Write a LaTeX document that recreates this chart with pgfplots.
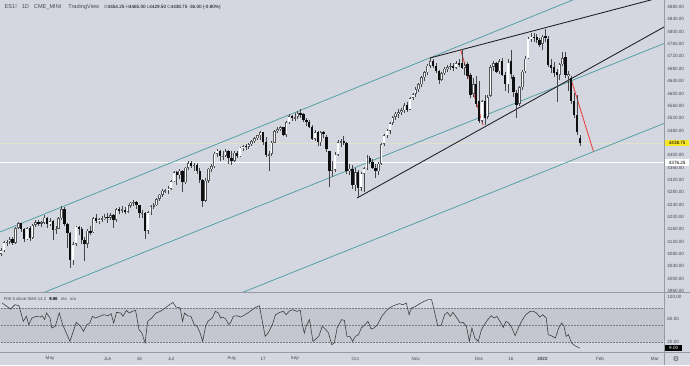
\documentclass[border=0pt]{standalone}
\usepackage{pgfplots}
\pgfplotsset{compat=1.18}
\usepackage{pgfplotstable}
\usepackage{fontspec}
\setmainfont{Liberation Sans}
\newfontfamily\symfont{DejaVu Sans}
\definecolor{bg}{RGB}{212,215,224}
\definecolor{band}{RGB}{196,199,207}
\definecolor{tealc}{RGB}{78,158,160}
\definecolor{redc}{RGB}{232,70,70}
\definecolor{wedge}{RGB}{28,28,34}
\definecolor{outc}{RGB}{85,85,90}
\definecolor{downc}{RGB}{15,15,18}
\definecolor{wickc}{RGB}{70,70,75}
\definecolor{sepc}{RGB}{150,154,164}
\definecolor{tickc}{RGB}{70,74,84}
\definecolor{yellowbox}{RGB}{245,230,40}
\definecolor{faint}{RGB}{228,226,205}

\pgfplotstableread{
i O H L C
0 4080 4098 4072 4092
1 4092 4122 4088 4118
2 4118 4125 4105 4120
3 4120 4135 4112 4128
4 4130 4135 4110 4116
5 4116 4168 4114 4164
6 4164 4183 4160 4180
7 4180 4182 4152 4162
8 4162 4165 4118 4128
9 4128 4168 4125 4164
10 4164 4170 4122 4132
11 4132 4178 4128 4174
12 4174 4190 4168 4184
13 4184 4190 4170 4180
14 4180 4188 4168 4182
15 4182 4205 4176 4198
16 4198 4200 4165 4176
17 4176 4195 4172 4186
18 4186 4190 4125 4158
19 4158 4170 4145 4162
20 4162 4200 4160 4196
21 4196 4235 4190 4226
22 4226 4232 4172 4178
23 4178 4182 4100 4148
24 4148 4152 4034 4060
25 4060 4118 4045 4112
26 4112 4172 4105 4168
27 4168 4172 4140 4160
28 4160 4168 4112 4126
29 4126 4135 4058 4112
30 4112 4160 4098 4155
31 4155 4172 4140 4150
32 4150 4200 4148 4195
33 4195 4210 4180 4186
34 4186 4198 4178 4192
35 4192 4202 4185 4195
36 4195 4210 4190 4200
37 4200 4212 4180 4198
38 4198 4212 4190 4205
39 4205 4210 4165 4190
40 4190 4230 4185 4226
41 4226 4232 4208 4222
42 4222 4234 4212 4224
43 4224 4232 4210 4216
44 4216 4240 4212 4236
45 4236 4250 4230 4246
46 4246 4256 4235 4250
47 4250 4252 4225 4238
48 4238 4240 4195 4212
49 4212 4222 4195 4214
50 4214 4216 4130 4155
51 4155 4220 4145 4215
52 4215 4240 4205 4235
53 4235 4245 4225 4238
54 4238 4262 4234 4258
55 4258 4275 4252 4272
56 4272 4290 4265 4285
57 4285 4292 4276 4286
58 4286 4300 4275 4292
59 4292 4320 4288 4316
60 4316 4350 4312 4345
61 4345 4350 4305 4335
62 4335 4355 4322 4350
63 4350 4352 4280 4312
64 4312 4362 4308 4360
65 4360 4380 4352 4375
66 4375 4382 4358 4366
67 4366 4375 4348 4368
68 4368 4374 4340 4350
69 4350 4358 4310 4320
70 4320 4322 4233 4252
71 4252 4325 4248 4318
72 4318 4360 4310 4356
73 4356 4370 4345 4364
74 4364 4410 4358 4405
75 4405 4420 4395 4414
76 4414 4418 4380 4396
77 4396 4412 4385 4398
78 4398 4420 4395 4412
79 4412 4416 4372 4390
80 4390 4412 4368 4382
81 4382 4412 4378 4408
82 4408 4412 4390 4396
83 4396 4428 4394 4424
84 4424 4432 4415 4430
85 4430 4436 4418 4428
86 4428 4440 4420 4436
87 4436 4448 4430 4445
88 4445 4460 4440 4456
89 4456 4466 4450 4464
90 4464 4478 4448 4474
91 4474 4476 4432 4442
92 4442 4458 4395 4400
93 4400 4415 4350 4404
94 4404 4445 4398 4440
95 4440 4482 4438 4478
96 4478 4490 4472 4484
97 4484 4496 4480 4490
98 4490 4492 4462 4466
99 4466 4510 4460 4506
100 4506 4532 4500 4526
101 4526 4530 4512 4520
102 4520 4538 4510 4524
103 4524 4542 4518 4536
104 4536 4550 4522 4532
105 4532 4538 4508 4514
106 4514 4520 4496 4508
107 4508 4514 4488 4492
108 4492 4498 4448 4454
109 4454 4482 4446 4474
110 4474 4480 4430 4442
111 4442 4478 4430 4474
112 4474 4478 4455 4468
113 4460 4465 4410 4420
114 4412 4415 4298 4350
115 4350 4380 4330 4352
116 4352 4410 4345 4402
117 4402 4450 4398 4442
118 4442 4452 4425 4445
119 4445 4462 4432 4438
120 4438 4442 4340 4348
121 4348 4370 4335 4356
122 4356 4368 4290 4302
123 4302 4358 4285 4345
124 4345 4352 4260 4294
125 4294 4345 4285 4340
126 4340 4362 4280 4358
127 4358 4400 4352 4392
128 4392 4398 4370 4378
129 4378 4388 4355 4360
130 4360 4370 4325 4348
131 4348 4378 4335 4372
132 4372 4440 4368 4436
133 4436 4468 4430 4464
134 4464 4485 4455 4480
135 4480 4508 4470 4504
136 4504 4528 4498 4524
137 4524 4540 4515 4534
138 4534 4550 4522 4540
139 4540 4552 4530 4545
140 4545 4570 4538 4562
141 4562 4572 4540 4548
142 4548 4590 4545 4585
143 4585 4602 4578 4598
144 4598 4620 4590 4614
145 4614 4635 4605 4630
146 4630 4658 4620 4652
147 4652 4672 4640 4668
148 4668 4695 4660 4690
149 4690 4718 4682 4705
150 4705 4712 4682 4690
151 4690 4698 4665 4672
152 4672 4675 4630 4645
153 4645 4670 4640 4665
154 4665 4685 4660 4680
155 4680 4692 4668 4686
156 4686 4700 4675 4690
157 4690 4698 4672 4684
158 4684 4705 4678 4698
159 4698 4710 4685 4692
160 4700 4743 4678 4684
161 4684 4700 4660 4692
162 4694 4702 4648 4655
163 4660 4665 4585 4595
164 4598 4650 4590 4630
165 4630 4655 4555 4566
166 4574 4640 4503 4510
167 4512 4580 4505 4574
168 4576 4596 4498 4522
169 4524 4595 4518 4588
170 4592 4692 4590 4686
171 4686 4706 4672 4698
172 4698 4702 4665 4670
173 4672 4712 4662 4704
174 4706 4716 4655 4660
175 4660 4668 4608 4630
176 4630 4712 4600 4700
177 4704 4742 4648 4664
178 4652 4660 4590 4605
179 4600 4610 4520 4562
180 4566 4625 4560 4620
181 4620 4676 4612 4670
182 4672 4720 4666 4712
183 4714 4782 4710 4778
184 4778 4795 4768 4784
185 4784 4795 4768 4780
186 4782 4794 4764 4772
187 4772 4778 4752 4758
188 4760 4788 4742 4784
189 4786 4808 4768 4780
190 4778 4786 4685 4692
191 4692 4712 4665 4684
192 4686 4702 4652 4666
193 4668 4680 4573 4660
194 4660 4700 4645 4694
195 4694 4735 4690 4714
196 4718 4735 4650 4660
197 4656 4672 4608 4662
198 4650 4656 4565 4576
199 4576 4600 4522 4530
200 4530 4595 4466 4475
201 4454.25 4465 4429.5 4438.75
}\candles

\pgfplotstableread{
x r
0.35 88.8
3.3 78.2
4.8 85.9
6.2 84.1
7.7 56.4
8.8 65.3
9.6 50.5
10.7 62.3
12.1 65.3
13.6 64.1
14.3 66.4
15.1 59.4
15.8 71.2
17.0 62.3
17.6 44.7
18.8 47.6
20.2 71.2
21.4 50.5
22.4 38.8
23.9 21.1
26.1 54.7
27.6 47.6
28.6 38.8
29.8 50.5
30.8 53.5
31.7 65.3
32.7 62.3
34.2 65.3
35.7 68.2
37.2 66.4
38.2 70.0
39.1 53.5
40.1 72.3
41.6 71.2
42.3 65.3
43.5 75.9
44.5 71.2
45.6 74.1
46.7 75.9
47.9 41.7
48.9 35.8
50.0 18.2
50.9 56.4
52.3 62.3
53.8 71.2
55.3 74.1
57.0 80.0
58.5 85.9
59.7 90.0
60.7 81.8
62.2 80.0
63.0 56.4
63.7 71.2
64.7 66.4
65.9 65.3
67.1 50.5
68.1 47.6
69.1 35.8
70.0 21.1
71.0 47.6
71.8 56.4
73.3 62.3
74.4 74.1
75.5 71.2
76.2 62.3
76.9 64.1
78.0 60.6
79.1 50.5
79.9 56.4
80.6 65.3
81.8 66.4
83.3 64.1
84.7 68.2
86.5 74.1
88.0 80.0
89.7 84.1
90.6 59.4
91.7 29.9
92.7 35.8
94.2 50.5
95.3 68.2
96.8 72.3
98.0 74.1
99.0 68.2
100.0 74.1
101.2 77.1
102.7 74.1
103.9 75.9
104.5 53.5
105.3 35.8
105.9 47.6
107.1 59.4
108.3 21.1
109.3 25.2
110.4 31.1
111.5 47.6
112.6 42.9
113.7 35.8
114.8 15.2
115.7 18.2
116.7 44.7
118.2 59.4
119.2 58.2
120.1 29.9
121.1 29.9
122.1 21.1
123.0 29.9
124.1 32.9
125.1 44.7
126.3 50.5
127.4 56.4
128.5 42.9
129.5 44.7
130.7 50.5
132.2 65.3
133.6 74.1
134.8 80.0
136.3 84.1
137.3 85.9
138.3 87.7
139.5 85.9
140.7 88.8
141.7 68.2
142.5 80.0
143.9 82.9
145.4 87.7
146.9 91.8
148.3 94.7
149.5 94.7
150.6 71.2
151.6 48.8
152.8 48.8
154.0 68.2
155.0 72.3
156.0 65.3
156.9 72.3
157.9 65.3
159.4 53.5
160.4 54.7
161.6 47.6
162.6 21.1
163.5 44.7
164.5 27.0
165.7 21.1
166.8 41.7
167.8 50.5
169.0 59.4
170.2 66.4
171.2 62.3
172.2 65.3
173.4 54.7
174.4 45.8
175.3 56.4
176.3 53.5
177.4 44.7
178.5 31.1
179.6 44.7
180.7 56.4
182.2 68.2
183.7 74.1
184.9 74.1
185.9 71.2
187.0 64.1
188.1 68.2
189.3 62.3
190.0 32.9
191.0 31.1
192.5 27.0
193.6 44.7
194.7 53.5
195.5 47.6
196.2 29.9
197.0 32.9
198.1 18.2
199.3 13.4
201.0 9.0
}\rsi

\begin{document}
\begin{tikzpicture}[x=1pt,y=1pt]
\fill[bg] (0,0) rectangle (690,365);
\path[use as bounding box] (0,0) rectangle (690,365);

% ---------- main price pane ----------
\begin{axis}[
  at={(0pt,365pt)}, anchor=north west, scale only axis,
  width=664pt, height=292pt,
  xmin=-0.38, xmax=230.2, ymin=3956.9, ymax=4902.7,
  axis x line*=bottom, axis y line*=right,
  axis line style={draw=none},
  xtick=\empty,
  ytick={3960,4000,...,4880},
  major tick length=0pt,
  /pgf/number format/assume math mode=true,
  yticklabel={\pgfmathprintnumber[fixed,fixed zerofill,precision=2,1000 sep={}]{\tick}},
  yticklabel style={anchor=west, xshift=3.2pt, inner sep=0pt,
    font=\fontsize{4.6}{5}\selectfont, text=tickc},
]
\addplot[faint, line width=0.5pt] coordinates {(-1,4438.75) (232,4438.75)};
\addplot[white, line width=0.7pt] coordinates {(-1,4376.25) (232,4376.25)};
% channel lines
\addplot[tealc, line width=0.75pt] coordinates {(-0.38,4151.2) (230.2,5022.5)};
\addplot[tealc, line width=0.75pt] coordinates {(13.5,3950.4) (230.2,4761.8)};
\addplot[tealc, line width=0.75pt] coordinates {(82.3,3949.8) (230.2,4503)};
% wedge
\addplot[wedge, line width=0.85pt] coordinates {(123.6,4261.4) (230.2,4815.2)};
\addplot[wedge, line width=0.85pt] coordinates {(148.9,4714.8) (230.2,4914)};
% red lines
\addplot[redc, line width=0.9pt] coordinates {(159.6,4740) (167.4,4497)};
\addplot[redc, line width=0.9pt] coordinates {(197.8,4650) (205.7,4412)};
% candles: wicks
\addplot[draw=none, mark=none,
  error bars/.cd, y dir=both, y explicit, error mark=none,
  error bar style={draw=wickc, line width=0.6pt}]
  table[x=i, y expr={(\thisrow{H}+\thisrow{L})/2}, y error expr={(\thisrow{H}-\thisrow{L})/2}] {\candles};
% bodies (outline)
\addplot[draw=none, mark=none,
  error bars/.cd, y dir=both, y explicit, error mark=none,
  error bar style={draw=outc, line width=2.4pt}]
  table[x=i, y expr={(\thisrow{O}+\thisrow{C})/2}, y error expr={max(abs(\thisrow{C}-\thisrow{O})/2,1.3)}] {\candles};
% down candles solid black
\addplot[draw=none, mark=none,
  error bars/.cd, y dir=both, y explicit, error mark=none,
  error bar style={draw=downc, line width=2.4pt}]
  table[x=i, y expr={(\thisrow{O}+\thisrow{C})/2}, y error expr={max((\thisrow{O}-\thisrow{C})/2,0)}] {\candles};
% white interiors of up candles
\addplot[draw=none, mark=none,
  error bars/.cd, y dir=both, y explicit, error mark=none,
  error bar style={draw=white, line width=1.3pt}]
  table[x=i, y expr={(\thisrow{O}+\thisrow{C})/2}, y error expr={max((\thisrow{C}-\thisrow{O})/2-2.0,0)}] {\candles};
\end{axis}

% ---------- RSI pane ----------
\begin{axis}[
  at={(0pt,72pt)}, anchor=north west, scale only axis,
  width=664pt, height=59pt,
  xmin=-0.38, xmax=230.2, ymin=2.3, ymax=106.5,
  axis x line*=bottom, axis y line*=right,
  axis line style={draw=none},
  major tick length=0pt,
  ytick={20,60,100},
  /pgf/number format/assume math mode=true,
  yticklabel={\pgfmathprintnumber[fixed,fixed zerofill,precision=2]{\tick}},
  yticklabel style={anchor=west, xshift=3.2pt, inner sep=0pt,
    font=\fontsize{4.6}{5}\selectfont, text=tickc},
  xtick={17,37,48,59,80,91,102,123,144,166,177,188,208,227},
  xticklabels={May,Jun,16,Jul,Aug,17,Sep,Oct,Nov,Dec,16,\textbf{2022},Feb,Mar},
  xticklabel style={anchor=center, yshift=-6.5pt, inner sep=0pt,
    font=\fontsize{4.6}{5}\selectfont, text=tickc},
]
\addplot[draw=none, fill=band] coordinates {(-1,20) (232,20) (232,80) (-1,80)} -- cycle;
\addplot[sepc!80!black, line width=0.4pt, dash pattern=on 1.5pt off 1.5pt] coordinates {(-1,80) (232,80)};
\addplot[sepc!80!black, line width=0.4pt, dash pattern=on 1.5pt off 1.5pt] coordinates {(-1,50) (232,50)};
\addplot[sepc!80!black, line width=0.4pt, dash pattern=on 1.5pt off 1.5pt] coordinates {(-1,20) (232,20)};
\addplot[black!75, line width=0.6pt] table[x=x, y=r] {\rsi};
\end{axis}

% ---------- frame lines ----------
\draw[sepc, line width=0.6pt] (0,72.3) -- (690,72.3);
\draw[sepc, line width=0.6pt] (0,12.3) -- (690,12.3);
\draw[sepc, line width=0.6pt] (664.3,0) -- (664.3,365);

% ---------- price labels ----------
\node[fill=yellowbox, inner sep=0pt, minimum width=24pt, minimum height=6.5pt, anchor=west,
  font=\fontsize{4.6}{5}\selectfont, text=black] at (665,221.8) {4438.75};
\node[fill=white, inner sep=0pt, minimum width=24pt, minimum height=6.5pt, anchor=west,
  font=\fontsize{4.6}{5}\selectfont, text=black] at (665,202.5) {4376.25};
\node[fill=black, inner sep=0pt, minimum width=17pt, minimum height=6pt, anchor=west,
  font=\fontsize{4.6}{5}\selectfont, text=white] at (665,16.7) {9.00};

% ---------- header texts ----------
\node[anchor=west, inner sep=0pt, font=\fontsize{5.6}{6}\selectfont, text=tickc] at (4.5,357.6)
  {ES1!\hspace{5pt}1D\hspace{5pt}CME\_MINI\hspace{7pt}TradingView\hspace{5pt}{\fontsize{4.6}{5}\selectfont O\textcolor{black}{4454.25} H\textcolor{black}{4465.00} L\textcolor{black}{4429.50} C\textcolor{black}{4438.75} \textcolor{black}{-36.00 (-0.80\%)}}};
\node[anchor=west, inner sep=0pt, font=\fontsize{4.3}{5}\selectfont, text=tickc] at (4,65.6)
  {RSI 5 close SMA 14 2\hspace{3pt}\textcolor{black}{\textbf{9.00}}\hspace{2pt} n/a\hspace{2pt} n/a};
\node[inner sep=0pt, font=\symfont\fontsize{7}{7}\selectfont, text=tickc] at (676,6) {⚙};
\end{tikzpicture}
\end{document}
